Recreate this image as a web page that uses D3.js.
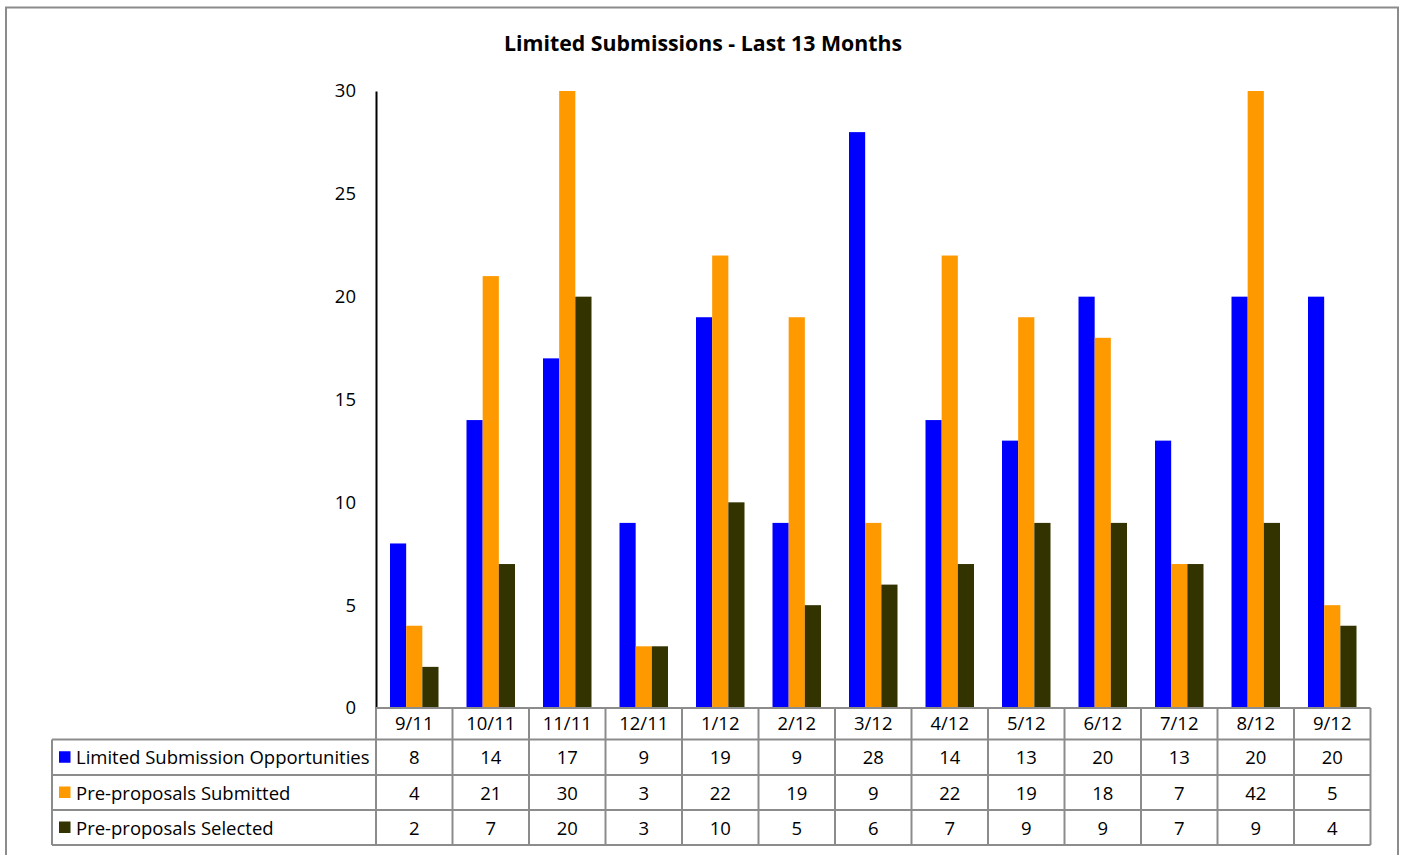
<!DOCTYPE html>
<html>
<head>
<meta charset="utf-8">
<script src="https://cdn.jsdelivr.net/npm/d3@7"></script>
<style>
  body { margin: 0; background: #fff; }
  text { font-family: "Open Sans", "Noto Sans", sans-serif; fill: #000; }
</style>
</head>
<body>
<div id="chart"></div>
<script>
// chart data
const months = ['9/11','10/11','11/11','12/11','1/12','2/12','3/12','4/12','5/12','6/12','7/12','8/12','9/12']
const seriesNames = ['Limited Submission Opportunities','Pre-proposals Submitted','Pre-proposals Selected']
const opportunities = [8,14,17,9,19,9,28,14,13,20,13,20,20]
const submitted = [4,21,30,3,22,19,9,22,19,18,7,42,5]
const selected = [2,7,20,3,10,5,6,7,9,9,7,9,4]
const yTicks = [0,5,10,15,20,25,30]
const colors = ['#0000ff','#ff9900','#333300']

const W = 1403, H = 855
const plotLeft = 376, plotRight = 1370.5, plotTop = 91, plotBottom = 708
const legendLeft = 52
const fs = '18.5px'

const svg = d3.select('#chart').append('svg')
  .attr('width', W).attr('height', H)

// outer frame
svg.append('rect')
  .attr('x', 6).attr('y', 7.5).attr('width', 1392).attr('height', 860)
  .attr('fill', 'none').attr('stroke', '#8c8c8c').attr('stroke-width', 2)

svg.append('text')
  .attr('x', 703).attr('y', 51)
  .attr('text-anchor', 'middle')
  .style('font-size', '21.3px').style('font-weight', 'bold')
  .text('Limited Submissions - Last 13 Months')

const x0 = d3.scaleBand().domain(months).range([plotLeft, plotRight])
const inset = 14
const x1 = d3.scaleBand().domain(seriesNames).range([inset, x0.bandwidth() - inset])
const y = d3.scaleLinear().domain([0, 30]).range([plotBottom, plotTop])

const data = [opportunities, submitted, selected]

svg.append('clipPath').attr('id', 'plotclip')
  .append('rect').attr('x', plotLeft).attr('y', plotTop)
  .attr('width', plotRight - plotLeft).attr('height', plotBottom - plotTop)

const plot = svg.append('g').attr('clip-path', 'url(#plotclip)')
const groups = plot.selectAll('g.month')
  .data(months)
  .enter().append('g')
  .attr('class', 'month')
  .attr('transform', d => `translate(${x0(d)},0)`)

groups.selectAll('rect')
  .data((m, i) => seriesNames.map((s, k) => ({ s, k, v: data[k][i] })))
  .enter().append('rect')
  .attr('x', d => x1(d.s))
  .attr('width', x1.bandwidth())
  .attr('y', d => y(d.v))
  .attr('height', d => plotBottom - y(d.v))
  .attr('fill', d => colors[d.k])

// y axis
const yAxis = svg.append('g')
  .attr('transform', `translate(${plotLeft},0)`)
  .call(d3.axisLeft(y).tickValues(yTicks).tickSize(0).tickPadding(20))
yAxis.select('.domain').attr('stroke', '#000').attr('stroke-width', 2)
yAxis.selectAll('text')
  .style('font-size', fs)
  .style('font-family', '"Open Sans", "Noto Sans", sans-serif')

// data table
const grid = svg.append('g').attr('stroke', '#8c8c8c').attr('stroke-width', 2)
const rowYs = [plotBottom, 739.5, 775, 810, 845]
rowYs.forEach((ry, i) => {
  grid.append('line')
    .attr('x1', i === 0 ? plotLeft : legendLeft).attr('x2', plotRight)
    .attr('y1', ry).attr('y2', ry)
})
months.forEach(m => {
  grid.append('line')
    .attr('x1', x0(m)).attr('x2', x0(m))
    .attr('y1', plotBottom).attr('y2', rowYs[4])
})
grid.append('line').attr('x1', plotRight).attr('x2', plotRight).attr('y1', plotBottom).attr('y2', rowYs[4])
grid.append('line').attr('x1', legendLeft).attr('x2', legendLeft).attr('y1', rowYs[1]).attr('y2', rowYs[4])

// category labels
svg.selectAll('text.cat')
  .data(months)
  .enter().append('text')
  .attr('class', 'cat')
  .attr('x', d => x0(d) + x0.bandwidth() / 2)
  .attr('y', (rowYs[0] + rowYs[1]) / 2 + 6)
  .attr('text-anchor', 'middle')
  .style('font-size', fs)
  .text(d => d)

// rows
seriesNames.forEach((s, k) => {
  const cy = (rowYs[k + 1] + rowYs[k + 2]) / 2
  svg.append('rect')
    .attr('x', 59).attr('y', cy - 6).attr('width', 11.5).attr('height', 11.5)
    .attr('fill', colors[k])
  svg.append('text')
    .attr('x', 76).attr('y', cy + 7)
    .style('font-size', fs)
    .text(s)
  svg.selectAll('text.v' + k)
    .data(data[k])
    .enter().append('text')
    .attr('class', 'v' + k)
    .attr('x', (d, i) => x0(months[i]) + x0.bandwidth() / 2)
    .attr('y', cy + 7)
    .attr('text-anchor', 'middle')
    .style('font-size', fs)
    .text(d => d)
})
</script>
</body>
</html>
